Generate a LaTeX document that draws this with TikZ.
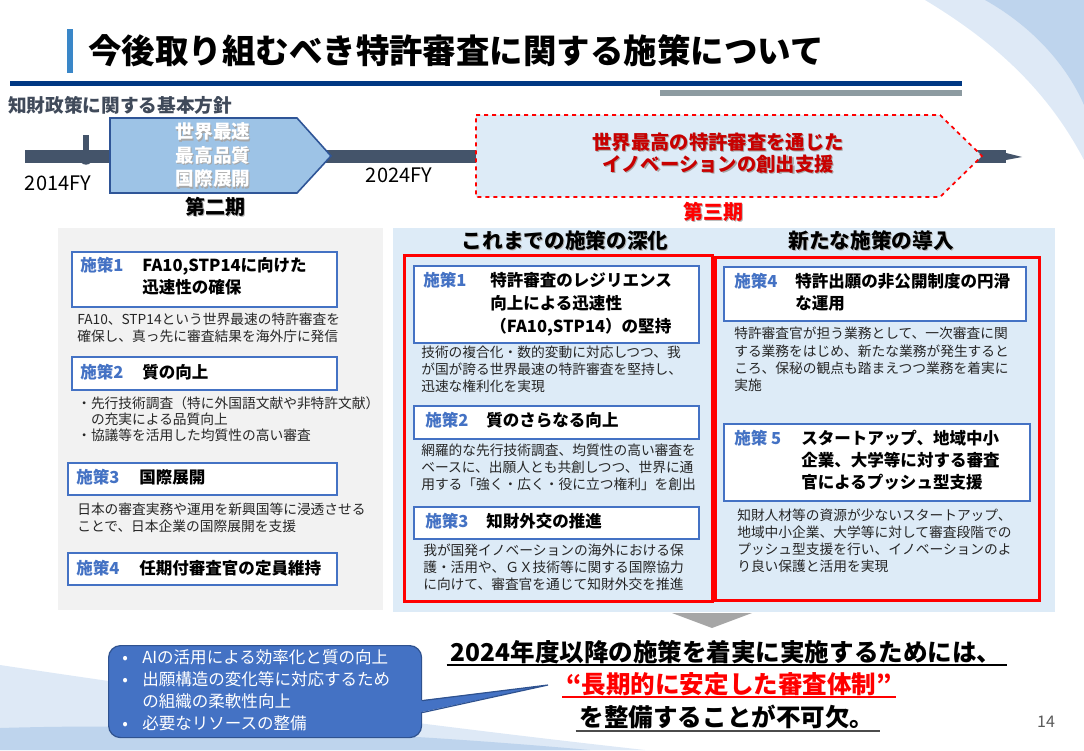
\documentclass[tikz,border=0pt]{standalone}
\usepackage{fontspec}
\setmainfont{Noto Sans CJK JP}
\usepackage{tikz}
\usetikzlibrary{positioning, calc}
\definecolor{titlebar}{RGB}{58,135,200}
\definecolor{navyline}{RGB}{0,56,131}
\definecolor{greyline}{RGB}{141,155,161}
\definecolor{policygray}{RGB}{64,74,90}
\definecolor{timeline}{RGB}{68,84,106}
\definecolor{phasefill}{RGB}{157,195,230}
\definecolor{phaseedge}{RGB}{47,85,151}
\definecolor{lightpanel}{RGB}{221,235,247}
\definecolor{greypanel}{RGB}{242,242,242}
\definecolor{framered}{RGB}{255,0,0}
\definecolor{phasered}{RGB}{200,0,0}
\definecolor{sbblue}{RGB}{68,114,196}
\definecolor{bodytext}{RGB}{38,38,38}
\definecolor{calloutfill}{RGB}{68,114,196}
\definecolor{calloutline}{RGB}{47,82,143}
\definecolor{arrowgray}{RGB}{166,166,166}
\definecolor{pagegray}{RGB}{89,89,89}
\definecolor{swooshlight}{RGB}{222,233,246}
\definecolor{swooshdark}{RGB}{190,212,237}
\newcommand{\shadowed}[2][black!35]{\rlap{\kern0.9pt\raisebox{-0.9pt}{\textcolor{#1}{#2}}}#2}

\begin{document}
\begin{tikzpicture}[x=0.75pt, y=-0.75pt,
  panel/.style={anchor=north west, inner sep=0pt, draw=none},
  redframe/.style={anchor=north west, inner sep=0pt, draw=framered, line width=2.3pt},
  sbox/.style={anchor=north west, inner sep=0pt, draw=sbblue, line width=1.6pt, fill=white},
  snum/.style={anchor=west, inner sep=0pt, text=sbblue, font=\fontsize{12.4}{16.5}\selectfont\bfseries},
  stitle/.style={anchor=north west, inner sep=0pt, align=left, font=\fontsize{12.4}{16.5}\selectfont\bfseries},
  sline/.style={anchor=west, inner sep=0pt, font=\fontsize{12.4}{16.5}\selectfont\bfseries},
  body/.style={anchor=north west, inner sep=0pt, align=left, text=bodytext, font=\fontsize{10.3}{12.75}\selectfont},
  colhead/.style={inner sep=0pt, font=\fontsize{15.5}{18}\selectfont\bfseries},
  phaselabel/.style={inner sep=0pt, font=\fontsize{15}{18}\selectfont\bfseries},
  fylabel/.style={inner sep=0pt, font=\fontsize{15}{18}\selectfont},
  closing/.style={inner sep=0pt, font=\fontsize{18.4}{21}\selectfont\bfseries},
  callout/.style={anchor=north west, inner sep=0pt, minimum width=234.75pt, minimum height=69pt,
    fill=calloutfill, draw=calloutline, line width=0.9pt, rounded corners=9pt}
]
  \useasboundingbox (0,0) rectangle (1084,750);

  % background swooshes
  \fill[swooshlight] (925,0) .. controls (1000,45) and (1050,95) .. (1084,160) -- (1084,0) -- cycle;
  \fill[swooshdark] (985,0) .. controls (1035,28) and (1068,68) .. (1084,105) -- (1084,0) -- cycle;
  \fill[swooshlight] (0,665) .. controls (200,695) and (420,725) .. (645,750) -- (0,750) -- cycle;
  \fill[swooshdark] (0,728) .. controls (200,722) and (420,735) .. (590,750) -- (0,750) -- cycle;

  % title
  \fill[titlebar] (67,29) rectangle (73,73);
  \node[anchor=west, inner sep=0pt, font=\fontsize{25.1}{28}\selectfont\bfseries] (title) at (88,51)
    {今後取り組むべき特許審査に関する施策について};
  \fill[navyline] (10,81) rectangle (962,86);
  \fill[greyline] (660,90) rectangle (962,96);
  \node[anchor=west, inner sep=0pt, text=policygray, font=\fontsize{14}{16}\selectfont\bfseries] (policy) at (8,105)
    {知財政策に関する基本方針};

  % timeline
  \fill[timeline] (25,150) rectangle (1006,163);
  \fill[timeline] (1006,153) -- (1022,157) -- (1006,160) -- cycle;
  \fill[timeline] (83,135) rectangle (89,152);
  \fill[timeline] (86,158) circle[radius=5pt];
  \node[fylabel] (fy14) at (58,183) {2014FY};
  \node[fylabel] (fy24) at (399,175) {2024FY};

  \draw[fill=phasefill, draw=phaseedge, line width=1.2pt]
    (110,118) -- (297,118) -- (331,156) -- (297,193) -- (110,193) -- cycle;
  \node[align=center, text=white, inner sep=0pt, font=\fontsize{14}{17.6}\selectfont\bfseries] (p2text) at (213,156)
    {\shadowed{世界最速}\\\shadowed{最高品質}\\\shadowed{国際展開}};
  \node[phaselabel] (p2label) at (215,207) {\shadowed[black!30]{第二期}};

  \draw[fill=lightpanel, draw=framered, line width=1.3pt, dashed]
    (476,115) -- (940,115) -- (982,156) -- (940,197) -- (476,197) -- cycle;
  \node[align=center, text=phasered, inner sep=0pt, font=\fontsize{14.5}{16.5}\selectfont\bfseries] (p3text) at (718,154)
    {\shadowed{世界最高の特許審査を通じた}\\\shadowed{イノベーションの創出支援}};
  \node[phaselabel, text=framered] (p3label) at (713,212) {\shadowed[black!30]{第三期}};

  % panels
  \node[panel, fill=greypanel, minimum width=243.75pt, minimum height=286.5pt] (lpanel) at (58,228) {};
  \node[panel, fill=lightpanel, minimum width=496.5pt, minimum height=288pt] (rpanel) at (393,228) {};
  \node[colhead] (head1) at (565,241) {\shadowed[black!30]{これまでの施策の深化}};
  \node[colhead] (head2) at (871,241) {\shadowed[black!30]{新たな施策の導入}};
  \node[redframe, minimum width=231pt, minimum height=259.5pt] (mframe) at (403,254) {};
  \node[redframe, minimum width=243pt, minimum height=257.25pt] (rframe) at (714,256) {};

  % left column
  \node[sbox, minimum width=198.75pt, minimum height=41.25pt] (l1) at (71,251) {};
  \node[snum] (l1n) at (80,265) {施策1};
  \node[stitle] (l1t) at (142,257) {FA10,STP14に向けた\\迅速性の確保};
  \node[body] (l1b) at (77,313) {FA10、STP14という世界最速の特許審査を\\確保し、真っ先に審査結果を海外庁に発信};

  \node[sbox, minimum width=198.75pt, minimum height=24.75pt] (l2) at (71,356) {};
  \node[snum] (l2n) at (80,372) {施策2};
  \node[sline] (l2t) at (142,372) {質の向上};
  \node[body, font=\fontsize{10.3}{12}\selectfont] (l2b) at (77,396)
    {・先行技術調査（特に外国語文献や非特許文献）\\\hspace*{1em}の充実による品質向上\\・協議等を活用した均質性の高い審査};

  \node[sbox, minimum width=201.75pt, minimum height=24pt] (l3) at (67,462) {};
  \node[snum] (l3n) at (76,477) {施策3};
  \node[sline] (l3t) at (139,477) {国際展開};
  \node[body] (l3b) at (77,503) {日本の審査実務や運用を新興国等に浸透させる\\ことで、日本企業の国際展開を支援};

  \node[sbox, minimum width=201.75pt, minimum height=24pt] (l4) at (67,552) {};
  \node[snum] (l4n) at (76,568) {施策4};
  \node[sline] (l4t) at (139,568) {任期付審査官の定員維持};

  % middle column
  \node[sbox, minimum width=213.75pt, minimum height=57.75pt] (m1) at (413,265) {};
  \node[snum] (m1n) at (423,280) {施策1};
  \node[stitle, font=\fontsize{12.4}{17.25}\selectfont\bfseries] (m1t) at (490,272)
    {特許審査のレジリエンス\\向上による迅速性\\（FA10,STP14）の堅持};
  \node[body] (m1b) at (421,346) {技術の複合化・数的変動に対応しつつ、我\\が国が誇る世界最速の特許審査を堅持し、\\迅速な権利化を実現};

  \node[sbox, minimum width=213.75pt, minimum height=24.75pt] (m2) at (413,405) {};
  \node[snum] (m2n) at (425,420) {施策2};
  \node[sline] (m2t) at (486,420) {質のさらなる向上};
  \node[body] (m2b) at (421,444) {網羅的な先行技術調査、均質性の高い審査を\\ベースに、出願人とも共創しつつ、世界に通\\用する「強く・広く・役に立つ権利」を創出};

  \node[sbox, minimum width=213.75pt, minimum height=24pt] (m3) at (413,506) {};
  \node[snum] (m3n) at (425,521) {施策3};
  \node[sline] (m3t) at (486,521) {知財外交の推進};
  \node[body] (m3b) at (423,544) {我が国発イノベーションの海外における保\\護・活用や、ＧＸ技術等に関する国際協力\\に向けて、審査官を通じて知財外交を推進};

  % right column
  \node[sbox, minimum width=226.5pt, minimum height=40.5pt] (r1) at (723,266) {};
  \node[snum] (r1n) at (734,281) {施策4};
  \node[stitle] (r1t) at (795,273) {特許出願の非公開制度の円滑\\な運用};
  \node[body, font=\fontsize{10.3}{13}\selectfont] (r1b) at (734,327)
    {特許審査官が担う業務として、一次審査に関\\する業務をはじめ、新たな業務が発生すると\\ころ、保秘の観点も踏まえつつ業務を着実に\\実施};

  \node[sbox, minimum width=229.5pt, minimum height=57.75pt] (r2) at (723,423) {};
  \node[snum] (r2n) at (734,438) {施策 5};
  \node[stitle] (r2t) at (801,430) {スタートアップ、地域中小\\企業、大学等に対する審査\\官によるプッシュ型支援};
  \node[body] (r2b) at (737,509)
    {知財人材等の資源が少ないスタートアップ、\\地域中小企業、大学等に対して審査段階での\\プッシュ型支援を行い、イノベーションのよ\\り良い保護と活用を実現};

  % conclusion
  \fill[arrowgray] (672,613) -- (752,613) -- (712,628) -- cycle;
  \node[closing] (close1) at (726,652) {2024年度以降の施策を着実に実施するためには、};
  \node[closing, text=framered] (close2) at (729,684) {“長期的に安定した審査体制”};
  \node[closing] (close3) at (727,717) {を整備することが不可欠。};
  \draw[line width=1.4pt] ([xshift=-3pt,yshift=-1pt]close1.south west) -- ([xshift=4pt,yshift=-1pt]close1.south east);
  \draw[line width=1.4pt, framered] ([xshift=-3pt,yshift=-1pt]close2.south west) -- ([xshift=3pt,yshift=-1pt]close2.south east);
  \draw[line width=1.4pt, black!70] ([xshift=-3pt,yshift=-1pt]close3.south west) -- ([xshift=4pt,yshift=-1pt]close3.south east);
  \node[text=pagegray, inner sep=0pt, font=\fontsize{12}{14}\selectfont] (pagenum) at (1046,722) {14};

  % callout
  \node[callout] (callout) at (108,645) {};
  \coordinate (ptip) at (548,685);
  \fill[calloutfill] ($(callout.east)+(-3,9)$) -- (ptip) -- ($(callout.east)+(-3,21)$) -- cycle;
  \draw[calloutline, line width=0.9pt] ($(callout.east)+(0,9)$) -- (ptip) -- ($(callout.east)+(0,21)$);
  \node[anchor=north west, inner sep=0pt, align=left, text=white, font=\fontsize{12.4}{16.5}\selectfont] (callouttext) at (122,649)
    {\makebox[15pt][l]{•}AIの活用による効率化と質の向上\\
     \makebox[15pt][l]{•}出願構造の変化等に対応するため\\
     \hspace*{15pt}の組織の柔軟性向上\\
     \makebox[15pt][l]{•}必要なリソースの整備};
\end{tikzpicture}
\end{document}
